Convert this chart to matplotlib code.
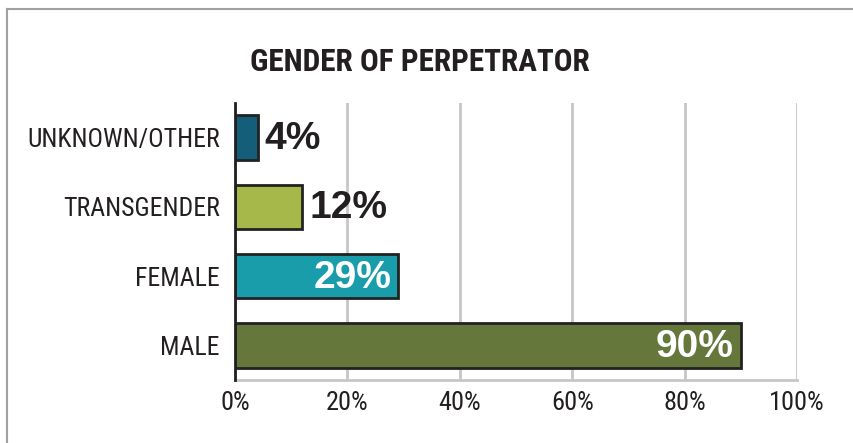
import matplotlib
matplotlib.use("Agg")
import matplotlib.pyplot as plt
from matplotlib.lines import Line2D

# data
categories = ["MALE", "FEMALE", "TRANSGENDER", "UNKNOWN/OTHER"]
values = [90, 29, 12, 4]
colors = ["#65773b", "#1a9dab", "#a6b84a", "#145e7a"]
label_inside = [True, True, False, False]
xticks = [0, 20, 40, 60, 80, 100]
title = "GENDER OF PERPETRATOR"

narrow = ["Roboto Condensed", "Archivo Narrow", "DejaVu Sans"]
bold = ["Arimo", "Liberation Sans", "DejaVu Sans"]

fig = plt.figure(figsize=(8.54, 4.43), dpi=100)
ax = fig.add_axes([0.2752, 0.1422, 0.6581, 0.6253])

ypos = list(range(len(categories)))
ax.barh(ypos, values, height=0.64, color=colors, edgecolor="#222222", linewidth=2, zorder=3)

for y, v, inside in zip(ypos, values, label_inside):
    if inside:
        ax.annotate(f"{v}%", (v, y), xytext=(-5, -1), textcoords="offset points",
                    ha="right", va="center", color="white", fontsize=28,
                    fontweight="bold", family=bold, zorder=4)
    else:
        ax.annotate(f"{v}%", (v, y), xytext=(5, -1), textcoords="offset points",
                    ha="left", va="center", color="#231f20", fontsize=28,
                    fontweight="bold", family=bold, zorder=4)

ax.set_xlim(0, 100)
ax.set_ylim(-0.5, 3.5)
ax.set_xticks(xticks)
ax.set_xticklabels([f"{t}%" for t in xticks], family=narrow, fontsize=19,
                   color="#231f20")
ax.set_yticks(ypos)
ax.set_yticklabels(categories, family=narrow, fontsize=18.5, color="#231f20")
ax.tick_params(length=0, pad=8)
ax.tick_params(axis="y", pad=11)

ax.grid(axis="x", color="#c6c6ca", linewidth=2, zorder=0)
ax.set_axisbelow(True)
for s in ["top", "right"]:
    ax.spines[s].set_visible(False)
ax.spines["left"].set_color("#231f20")
ax.spines["left"].set_linewidth(2)
ax.spines["left"].set_zorder(5)
ax.spines["bottom"].set_color("#c6c6ca")
ax.spines["bottom"].set_linewidth(2)

fig.text(0.492, 0.86, title, ha="center", va="center", family=narrow,
         fontweight="bold", fontsize=22.5, color="#231f20")

# frame lines (top and left only, the rest is cut off)
fig.add_artist(Line2D([0.008, 1], [0.979, 0.979], color="#a0a0a0", linewidth=1.5))
fig.add_artist(Line2D([0.008, 0.008], [0, 0.979], color="#a0a0a0", linewidth=1.5))

fig.savefig("out.png", dpi=100)
